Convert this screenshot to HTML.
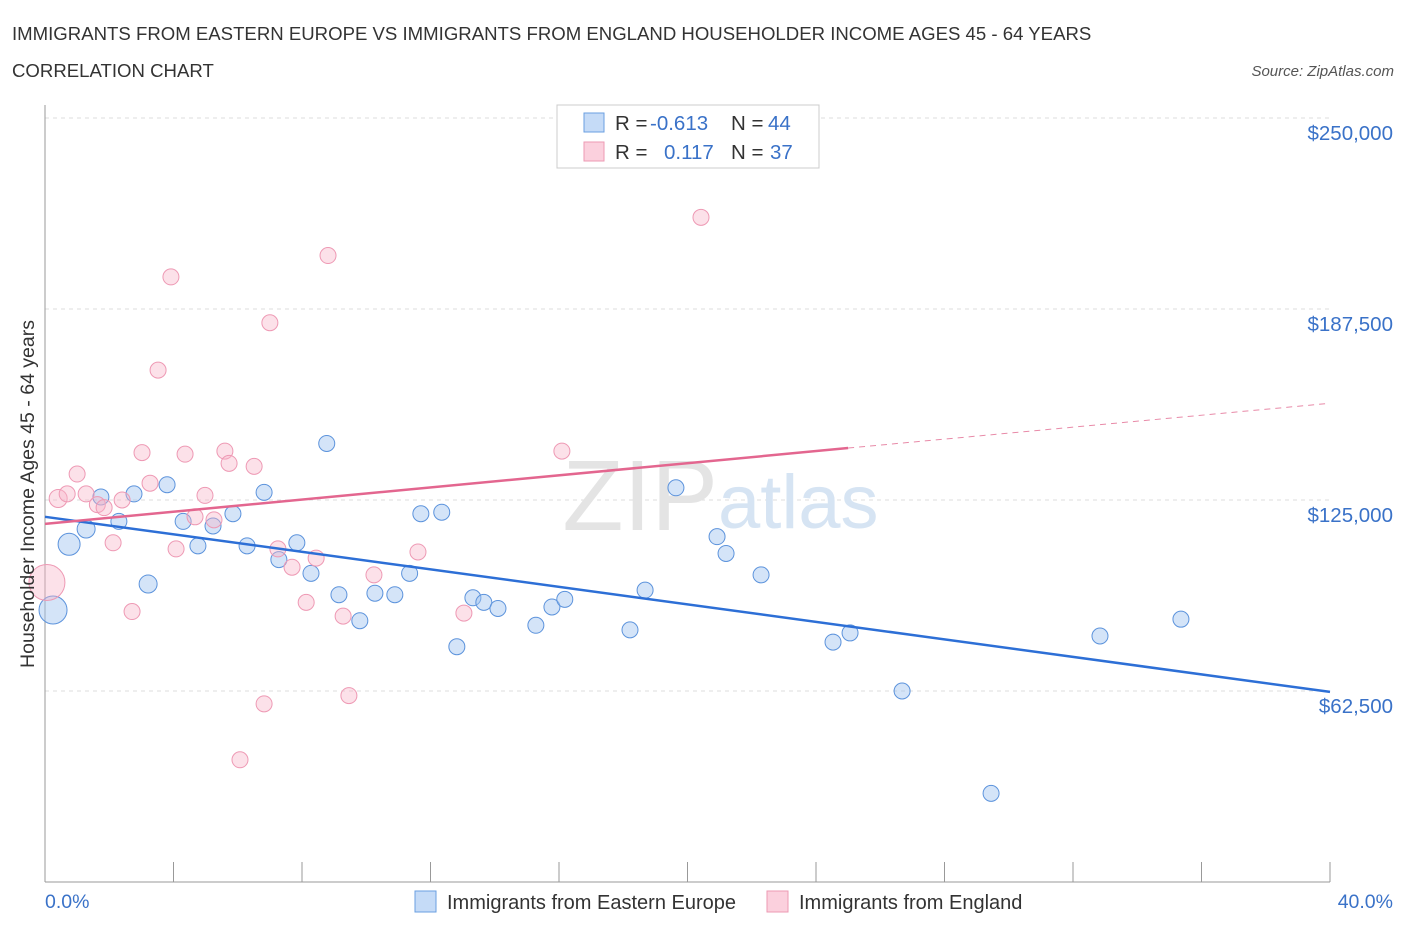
<!DOCTYPE html>
<html><head><meta charset="utf-8"><style>
body{margin:0;background:#fff;font-family:"Liberation Sans",sans-serif;}
svg text{font-family:"Liberation Sans",sans-serif;}
</style></head><body>
<svg id="chart" width="1406" height="930">
<text x="12" y="40" font-size="18.6" fill="#333">IMMIGRANTS FROM EASTERN EUROPE VS IMMIGRANTS FROM ENGLAND HOUSEHOLDER INCOME AGES 45 - 64 YEARS</text>
<text x="12" y="77" font-size="18.6" fill="#333">CORRELATION CHART</text>
<text x="1394" y="76" font-size="15" fill="#555" font-style="italic" text-anchor="end">Source: ZipAtlas.com</text>
<g id="grid"></g>
<text x="718" y="530" font-size="100" fill="#e4e4e4" text-anchor="end" font-family="Liberation Serif">ZIP</text>
<text x="718" y="528" font-size="76" fill="#d6e4f3">atlas</text>
<g id="marks"></g>
<text transform="translate(34,494) rotate(-90)" font-size="19.5" fill="#333" text-anchor="middle">Householder Income Ages 45 - 64 years</text>
<text x="45" y="908" font-size="19.5" fill="#3a72c8">0.0%</text>
<text x="1393" y="908" font-size="19.5" fill="#3a72c8" text-anchor="end">40.0%</text>
<g>
<rect x="557" y="105" width="262" height="63" fill="#fff" stroke="#ccc"/>
<rect x="584" y="113" width="20" height="19" fill="#c5dbf7" stroke="#6a9fe0"/>
<rect x="584" y="142" width="20" height="19" fill="#fbd0dd" stroke="#ec9ab3"/>
<text x="615" y="130" font-size="20.5" fill="#333">R =</text>
<text x="650" y="130" font-size="20.5" fill="#3a72c8">-0.613</text>
<text x="731" y="130" font-size="20.5" fill="#333">N =</text>
<text x="768" y="130" font-size="20.5" fill="#3a72c8">44</text>
<text x="615" y="159" font-size="20.5" fill="#333">R =</text>
<text x="664" y="159" font-size="20.5" fill="#3a72c8">0.117</text>
<text x="731" y="159" font-size="20.5" fill="#333">N =</text>
<text x="770" y="159" font-size="20.5" fill="#3a72c8">37</text>
</g>
<g>
<rect x="415" y="891" width="21" height="21" fill="#c5dbf7" stroke="#6a9fe0"/>
<text x="447" y="909" font-size="20" fill="#333">Immigrants from Eastern Europe</text>
<rect x="767" y="891" width="21" height="21" fill="#fbd0dd" stroke="#ec9ab3"/>
<text x="799" y="909" font-size="20" fill="#333">Immigrants from England</text>
</g>
</svg>
<script>
const yTicks=[62500,125000,187500,250000];
const yTickLabels=["$62,500","$125,000","$187,500","$250,000"];
const xTicks=[0,4,8,12,16,20,24,28,32,36,40];
// Eastern Europe: x (%), y ($), size
const blueX=[0.25,0.75,1.28,1.74,2.3,2.77,3.21,3.8,4.3,4.76,5.23,5.85,6.29,6.82,7.28,7.84,8.28,8.77,9.15,9.8,10.27,10.89,11.35,11.7,12.35,12.82,13.32,13.66,14.1,15.28,15.78,16.18,18.21,18.68,19.64,20.92,21.2,22.29,24.53,25.06,26.68,29.45,32.84,35.36];
const blueY=[89000,110500,115500,126000,118000,127000,97500,130000,118000,110000,116500,120500,110000,127500,105500,111000,101000,143500,94000,85500,94500,94000,101000,120500,121000,77000,93000,91500,89500,84000,90000,92500,82500,95500,129000,113000,107500,100500,78500,81500,62500,29000,80500,86000];
const blueR=[14,11,9,8,8,8,9,8,8,8,8,8,8,8,8,8,8,8,8,8,8,8,8,8,8,8,8,8,8,8,8,8,8,8,8,8,8,8,8,8,8,8,8,8];
// England
const pinkX=[0.06,0.41,0.69,1.0,1.28,1.63,1.84,2.12,2.4,2.71,3.02,3.27,3.52,3.92,4.08,4.36,4.67,4.98,5.26,5.6,5.73,6.07,6.51,6.82,7.0,7.25,7.69,8.13,8.44,8.81,9.28,9.46,10.24,11.61,13.04,16.09,20.42];
const pinkY=[98000,125500,127000,133500,127000,123500,122500,111000,125000,88500,140500,130500,167500,198000,109000,140000,119500,126500,118500,141000,137000,40000,136000,58300,183000,109000,103000,91500,106000,205000,87000,61000,100500,108000,88000,141000,217500];
const pinkR=[18,9,8,8,8,8,8,8,8,8,8,8,8,8,8,8,8,8,8,8,8,8,8,8,8,8,8,8,8,8,8,8,8,8,8,8,8];
const blueTrendX=[0,40];
const blueTrendY=[119500,62200];
const pinkTrendX=[0,25];
const pinkTrendY=[117200,142000];
const pinkDashX=[25,39.85];
const pinkDashY=[142000,156500];

const NS="http://www.w3.org/2000/svg";
const X=v=>45+v/40*1285;
const Y=v=>882-v/62500*191;
function mk(tag,attrs,parent){const e=document.createElementNS(NS,tag);for(const k in attrs)e.setAttribute(k,attrs[k]);parent.appendChild(e);return e;}
const grid=document.getElementById('grid');
const marks=document.getElementById('marks');
yTicks.forEach((t,i)=>{
  const l=mk('line',{x1:45,x2:1330,y1:Y(t),y2:Y(t),stroke:'#ddd','stroke-dasharray':'4,4'},grid);
  
  
  const tx=mk('text',{x:1393,y:Y(t)+22,'font-size':20.5,fill:'#3a72c8','text-anchor':'end'},grid);
  tx.textContent=yTickLabels[i];
  
  
});
const topl=mk('line',{x1:45,x2:1330,y1:118,y2:118,stroke:'#ddd','stroke-dasharray':'4,4'},grid);


const ya=mk('line',{x1:45,x2:45,y1:105,y2:882,stroke:'#999'},grid);


const xa=mk('line',{x1:45,x2:1330,y1:882,y2:882,stroke:'#999'},grid);


xTicks.forEach(t=>{
  const l=mk('line',{x1:X(t),x2:X(t),y1:862,y2:882,stroke:'#999'},grid);
  
  
});
blueX.forEach((v,i)=>{
  const c=mk('circle',{cx:X(v),cy:Y(blueY[i]),r:blueR[i],fill:'rgba(160,196,240,0.45)',stroke:'#5c93dc','stroke-width':1},marks);
  
  
});
pinkX.forEach((v,i)=>{
  const c=mk('circle',{cx:X(v),cy:Y(pinkY[i]),r:pinkR[i],fill:'rgba(248,180,200,0.4)',stroke:'#ee99b4','stroke-width':1},marks);
  
  
});
const bl=mk('line',{x1:X(blueTrendX[0]),y1:Y(blueTrendY[0]),x2:X(blueTrendX[1]),y2:Y(blueTrendY[1]),stroke:'#2d6fd6','stroke-width':2.5},marks);


const pl=mk('line',{x1:X(pinkTrendX[0]),y1:Y(pinkTrendY[0]),x2:X(pinkTrendX[1]),y2:Y(pinkTrendY[1]),stroke:'#e3668f','stroke-width':2.5},marks);


const pd=mk('line',{x1:X(pinkDashX[0]),y1:Y(pinkDashY[0]),x2:X(pinkDashX[1]),y2:Y(pinkDashY[1]),stroke:'#e88aa8','stroke-width':1,'stroke-dasharray':'6,5'},marks);


</script>
</body></html>
